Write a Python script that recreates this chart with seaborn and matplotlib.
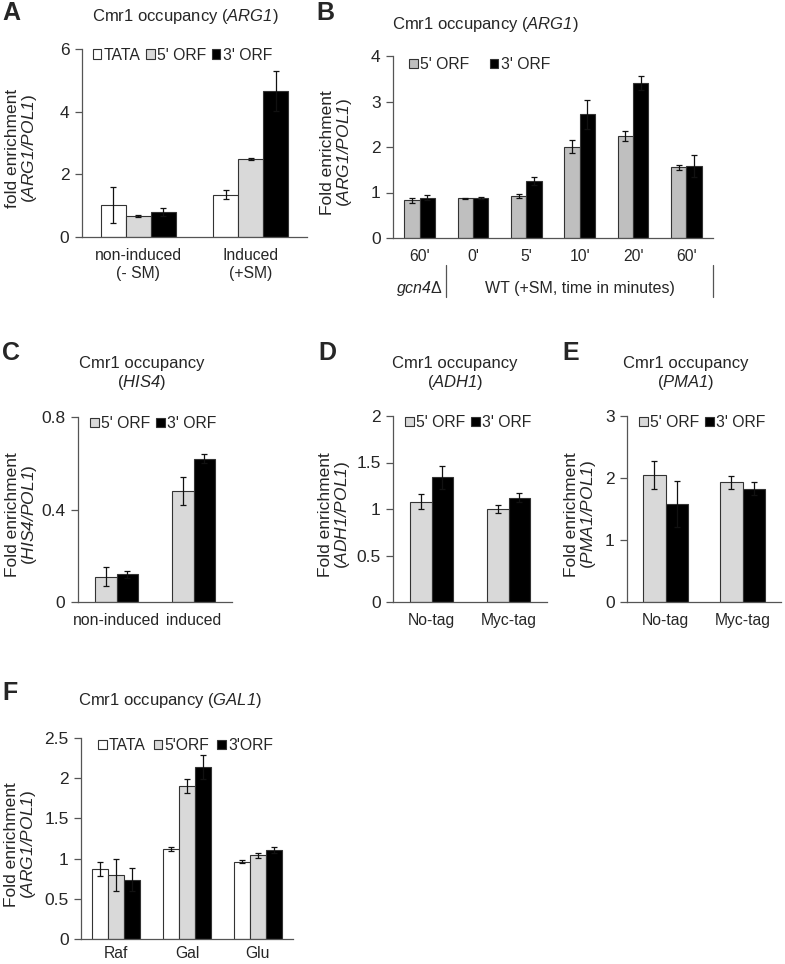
import numpy as np
import pandas as pd
import matplotlib
matplotlib.use("Agg")
import matplotlib.pyplot as plt
import seaborn as sns
from matplotlib.ticker import FuncFormatter

# ---- data ----
a_cats = ["non-induced\n(- SM)", "Induced\n(+SM)"]
a_probes = ["TATA", "5' ORF", "3' ORF"]
a_mean = [[1.02, 1.35], [0.68, 2.50], [0.80, 4.66]]
a_err = [[0.58, 0.15], [0.03, 0.03], [0.13, 0.64]]

b_keys = ["gcn4 60", "0", "5", "10", "20", "60"]
b_ticklabels = ["60'", "0'", "5'", "10'", "20'", "60'"]
b_probes = ["5' ORF", "3' ORF"]
b_mean = [[0.83, 0.87, 0.92, 2.01, 2.25, 1.55], [0.89, 0.88, 1.25, 2.72, 3.40, 1.58]]
b_err = [[0.06, 0.02, 0.04, 0.15, 0.11, 0.06], [0.05, 0.03, 0.09, 0.32, 0.15, 0.25]]

c_cats = ["non-induced", "induced"]
c_probes = ["5' ORF", "3' ORF"]
c_mean = [[0.11, 0.48], [0.12, 0.62]]
c_err = [[0.04, 0.06], [0.015, 0.02]]

d_cats = ["No-tag", "Myc-tag"]
d_mean = [[1.08, 1.00], [1.34, 1.12]]
d_err = [[0.08, 0.04], [0.12, 0.05]]

e_cats = ["No-tag", "Myc-tag"]
e_mean = [[2.05, 1.93], [1.58, 1.83]]
e_err = [[0.22, 0.10], [0.37, 0.11]]

f_cats = ["Raf", "Gal", "Glu"]
f_probes = ["TATA", "5'ORF", "3'ORF"]
f_mean = [[0.87, 1.12, 0.96], [0.80, 1.90, 1.04], [0.74, 2.14, 1.11]]
f_err = [[0.09, 0.02, 0.02], [0.20, 0.09, 0.03], [0.14, 0.15, 0.04]]

sns.set_style("white")
plt.rcParams["font.family"] = ["Liberation Sans", "DejaVu Sans"]
# everything inside $...$ is gene names -> all italic
plt.rcParams["mathtext.fontset"] = "custom"
plt.rcParams["mathtext.rm"] = "Liberation Sans:italic"
plt.rcParams["mathtext.it"] = "Liberation Sans:italic"
plt.rcParams["mathtext.default"] = "it"
plt.rcParams["font.size"] = 11.5

W, H = 785, 964
fig = plt.figure(figsize=(W / 100, H / 100), dpi=100)


def add_ax(x0, y0, x1, y1):
    # pixel box (left, top, right, bottom) -> figure fraction
    return fig.add_axes([x0 / W, 1 - y1 / H, (x1 - x0) / W, (y1 - y0) / H])


def panel(ax, cats, probes, means, errs, colors, width, top, yticks, ylabel,
          label_off, legend_kw):
    rows = []
    for p, vals in zip(probes, means):
        for c, v in zip(cats, vals):
            rows.append({"cat": c, "probe": p, "val": v})
    df = pd.DataFrame(rows)
    sns.barplot(data=df, x="cat", y="val", hue="probe", order=cats, hue_order=probes,
                palette=dict(zip(probes, colors)), width=width, errorbar=None,
                saturation=1, edgecolor="#333333", linewidth=0.8, ax=ax)
    for cont, err in zip(ax.containers, errs):
        xs = [b.get_x() + b.get_width() / 2 for b in cont]
        ys = [b.get_height() for b in cont]
        ax.errorbar(xs, ys, yerr=err, fmt="none", ecolor="#111111",
                    elinewidth=0.9, capsize=2.5, capthick=0.9)
    n = len(cats)
    ax.set_xlim(-0.5, n - 0.5)
    ax.set_ylim(0, top)
    ax.set_yticks(yticks)
    ax.yaxis.set_major_formatter(FuncFormatter(lambda v, _: f"{v:g}"))
    ax.set_xticks(np.arange(-0.5, n, 1.0), minor=True)
    ax.tick_params(axis="x", which="major", length=0, pad=8, labelsize=11.3)
    ax.tick_params(axis="x", which="minor", length=5, width=0.9, color="#555555")
    ax.tick_params(axis="y", length=5, width=0.9, color="#555555", left=True,
                   labelsize=12.5, pad=4)
    ax.set_xlabel("")
    ax.set_ylabel(ylabel, fontsize=12.5, linespacing=1.05)
    ax.yaxis.label.set_va("center")
    # label_off: distance in pixels from the y axis to the centre of the label block
    ax.yaxis.set_label_coords(-label_off / (ax.get_position().width * W), 0.47)
    sns.despine(ax=ax)
    for s in ["left", "bottom"]:
        ax.spines[s].set_color("#555555")
        ax.spines[s].set_linewidth(0.9)
    ax.legend(frameon=False, handlelength=0.55, handleheight=0.55,
              handletextpad=0.15, borderaxespad=0, fontsize=11.3, **legend_kw)


white, lgray, mgray, black = "#ffffff", "#d9d9d9", "#bfbfbf", "#000000"

# A
axA = add_ax(82, 49, 307, 237)
panel(axA, a_cats, a_probes, a_mean, a_err, [white, lgray, black], 0.67, 6,
      [0, 2, 4, 6], "fold enrichment\n($ARG1/POL1$)", 60,
      dict(ncol=3, loc="upper left", bbox_to_anchor=(0.02, 1.04), columnspacing=0.35))

# B
axB = add_ax(393, 56, 713, 238)
panel(axB, b_keys, b_probes, b_mean, b_err, [mgray, black], 0.58, 4,
      [0, 1, 2, 3, 4], "Fold enrichment\n($ARG1/POL1$)", 56,
      dict(ncol=2, loc="upper left", bbox_to_anchor=(0.03, 1.03), columnspacing=1.3))
axB.set_xticks(range(len(b_keys)))
axB.set_xticklabels(b_ticklabels)
for xv in [0.5, 5.5]:
    axB.plot([xv, xv], [-0.15, -0.325], transform=axB.get_xaxis_transform(),
             color="#555555", lw=0.9, clip_on=False)
axB.text(0.0, -0.275, "$gcn4$Δ", transform=axB.get_xaxis_transform(),
         ha="center", va="center", fontsize=11.5)
axB.text(3.0, -0.275, "WT (+SM, time in minutes)", transform=axB.get_xaxis_transform(),
         ha="center", va="center", fontsize=11.5)

# C
axC = add_ax(78, 417, 232, 602)
panel(axC, c_cats, c_probes, c_mean, c_err, [lgray, black], 0.56, 0.8,
      [0, 0.4, 0.8], "Fold enrichment\n($HIS4/POL1$)", 56,
      dict(ncol=2, loc="upper left", bbox_to_anchor=(0.04, 1.04), columnspacing=0.35))

# D
axD = add_ax(393, 416, 547, 602)
panel(axD, d_cats, c_probes, d_mean, d_err, [lgray, black], 0.57, 2,
      [0, 0.5, 1, 1.5, 2], "Fold enrichment\n($ADH1/POL1$)", 58,
      dict(ncol=2, loc="upper left", bbox_to_anchor=(0.04, 1.04), columnspacing=0.35))

# E
axE = add_ax(627, 416, 781, 602)
panel(axE, e_cats, c_probes, e_mean, e_err, [lgray, black], 0.58, 3,
      [0, 1, 2, 3], "Fold enrichment\n($PMA1/POL1$)", 46,
      dict(ncol=2, loc="upper left", bbox_to_anchor=(0.04, 1.04), columnspacing=0.35))

# F
axF = add_ax(81, 738, 293, 939)
panel(axF, f_cats, f_probes, f_mean, f_err, [white, lgray, black], 0.68, 2.5,
      [0, 0.5, 1, 1.5, 2, 2.5], "Fold enrichment\n($ARG1/POL1$)", 60,
      dict(ncol=3, loc="upper left", bbox_to_anchor=(0.05, 1.03), columnspacing=0.5))
axF.tick_params(axis="x", which="major", pad=5)


# titles and panel letters (pixel positions)
def ftext(x, y, s, **kw):
    fig.text(x / W, 1 - y / H, s, **kw)


tkw = dict(ha="center", va="center", fontsize=12)
ftext(185, 17, "Cmr1 occupancy ($ARG1$)", **tkw)
ftext(485, 25, "Cmr1 occupancy ($ARG1$)", **tkw)
ftext(142, 374, "Cmr1 occupancy\n($HIS4$)", linespacing=1.15, **tkw)
ftext(455, 374, "Cmr1 occupancy\n($ADH1$)", linespacing=1.15, **tkw)
ftext(686, 374, "Cmr1 occupancy\n($PMA1$)", linespacing=1.15, **tkw)
ftext(170, 700, "Cmr1 occupancy ($GAL1$)", **tkw)

lkw = dict(ha="left", va="center", fontsize=18, fontweight="bold")
ftext(2, 13, "A", **lkw)
ftext(316, 13, "B", **lkw)
ftext(2, 353, "C", **lkw)
ftext(318, 353, "D", **lkw)
ftext(562, 353, "E", **lkw)
ftext(2, 693, "F", **lkw)

fig.savefig("out.png", dpi=100, facecolor="white")
